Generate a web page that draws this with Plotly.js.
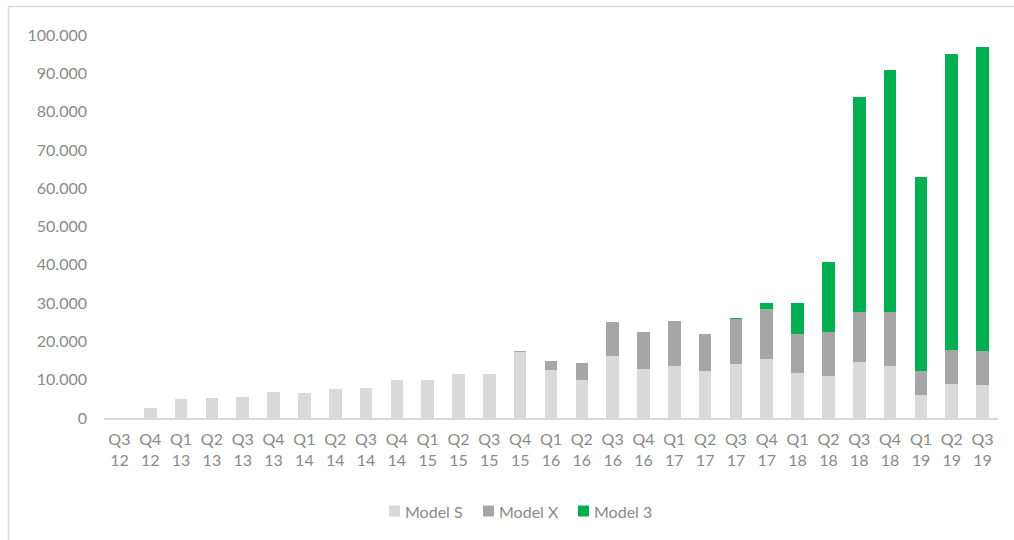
<!DOCTYPE html>
<html>
<head>
<meta charset="utf-8">
<script src="https://cdn.plot.ly/plotly-3.0.1.min.js"></script>
<style>
  html, body { margin: 0; padding: 0; background: #ffffff; }
  #chart { width: 1014px; height: 540px; }
</style>
</head>
<body>
<div id="chart"></div>
<script>
const quarters = ["Q3","Q4","Q1","Q2","Q3","Q4","Q1","Q2","Q3","Q4","Q1","Q2","Q3","Q4","Q1","Q2","Q3","Q4","Q1","Q2","Q3","Q4","Q1","Q2","Q3","Q4","Q1","Q2","Q3"];
const years    = ["12","12","13","13","13","13","14","14","14","14","15","15","15","15","16","16","16","16","17","17","17","17","18","18","18","18","19","19","19"];
const categories = quarters.map((q, i) => q + "<br>" + years[i]);

const modelS = [0, 2500, 4900, 5150, 5500, 6900, 6460, 7580, 7780, 9830, 10050, 11530, 11600, 17270, 12530, 9920, 16190, 12790, 13580, 12190, 14100, 15320, 11750, 11050, 14620, 13660, 6000, 8880, 8700];
const modelX = [0, 0, 0, 0, 0, 0, 0, 0, 0, 0, 0, 0, 0, 210, 2350, 4520, 8790, 9580, 11660, 9830, 11830, 13140, 10180, 11400, 13140, 14020, 6270, 8870, 8790];
const model3 = [0, 0, 0, 0, 0, 0, 0, 0, 0, 0, 0, 0, 0, 0, 0, 0, 0, 0, 0, 0, 300, 1570, 8020, 18280, 55970, 63180, 50730, 77370, 79460];

const seriesNames = ["Model S", "Model X", "Model 3"];
const seriesColors = ["#d9d9d9", "#a6a6a6", "#00b050"];
const seriesValues = [modelS, modelX, model3];

const textColor = "#8a8a8a";
const fontFamily = "Lato, 'Open Sans', sans-serif";

const traces = seriesValues.map((vals, i) => ({
  type: "bar",
  name: seriesNames[i],
  x: categories,
  y: vals,
  marker: { color: seriesColors[i], line: { width: 0 } },
  hoverinfo: "x+y+name",
  showlegend: false
}));

const L = 104, R = 16, T = 35, B = 122;
const W = 1014, H = 540;
const pw = W - L - R, ph = H - T - B;
const px = p => (p - L) / pw;
const py = p => (H - B - p) / ph;

// custom legend (Excel-style: small square then label)
const legendSquareX = [389, 483, 578];
const legendY = 511, sq = 11;
const legendShapes = seriesNames.map((n, i) => ({
  type: "rect", xref: "paper", yref: "paper",
  x0: px(legendSquareX[i]), x1: px(legendSquareX[i] + sq),
  y0: py(legendY + sq / 2), y1: py(legendY - sq / 2),
  line: { width: 0 }, fillcolor: seriesColors[i]
}));
const legendTexts = seriesNames.map((n, i) => ({
  xref: "paper", yref: "paper",
  x: px(legendSquareX[i] + sq + 3), y: py(legendY),
  xanchor: "left", yanchor: "middle",
  text: n, showarrow: false,
  font: { family: fontFamily, size: 16, color: textColor }
}));

const layout = {
  width: W, height: H,
  margin: { l: L, r: R, t: T, b: B, pad: 0 },
  paper_bgcolor: "#ffffff",
  plot_bgcolor: "#ffffff",
  separators: ",.",
  barmode: "stack",
  bargap: 0.59,
  font: { family: fontFamily, size: 16, color: textColor },
  xaxis: {
    type: "category",
    showgrid: false,
    zeroline: false,
    showline: true,
    linecolor: "#d9d9d9",
    linewidth: 2,
    ticks: "",
    ticklabelstandoff: 6,
    tickfont: { family: fontFamily, size: 16, color: textColor },
    tickangle: 0
  },
  yaxis: {
    range: [0, 100000],
    tickvals: [0, 10000, 20000, 30000, 40000, 50000, 60000, 70000, 80000, 90000, 100000],
    tickformat: ",d",
    showgrid: false,
    zeroline: false,
    showline: false,
    ticks: "",
    ticklabelstandoff: 16,
    tickfont: { family: fontFamily, size: 16, color: textColor }
  },
  showlegend: false,
  annotations: legendTexts,
  shapes: [{
    type: "rect", xref: "paper", yref: "paper",
    x0: px(8.5), x1: px(1040), y0: py(570), y1: py(6.5),
    line: { color: "#d9d9d9", width: 1.5 },
    fillcolor: "rgba(0,0,0,0)", layer: "below"
  }].concat(legendShapes)
};

Plotly.newPlot("chart", traces, layout, { displayModeBar: false, staticPlot: true });
</script>
</body>
</html>
